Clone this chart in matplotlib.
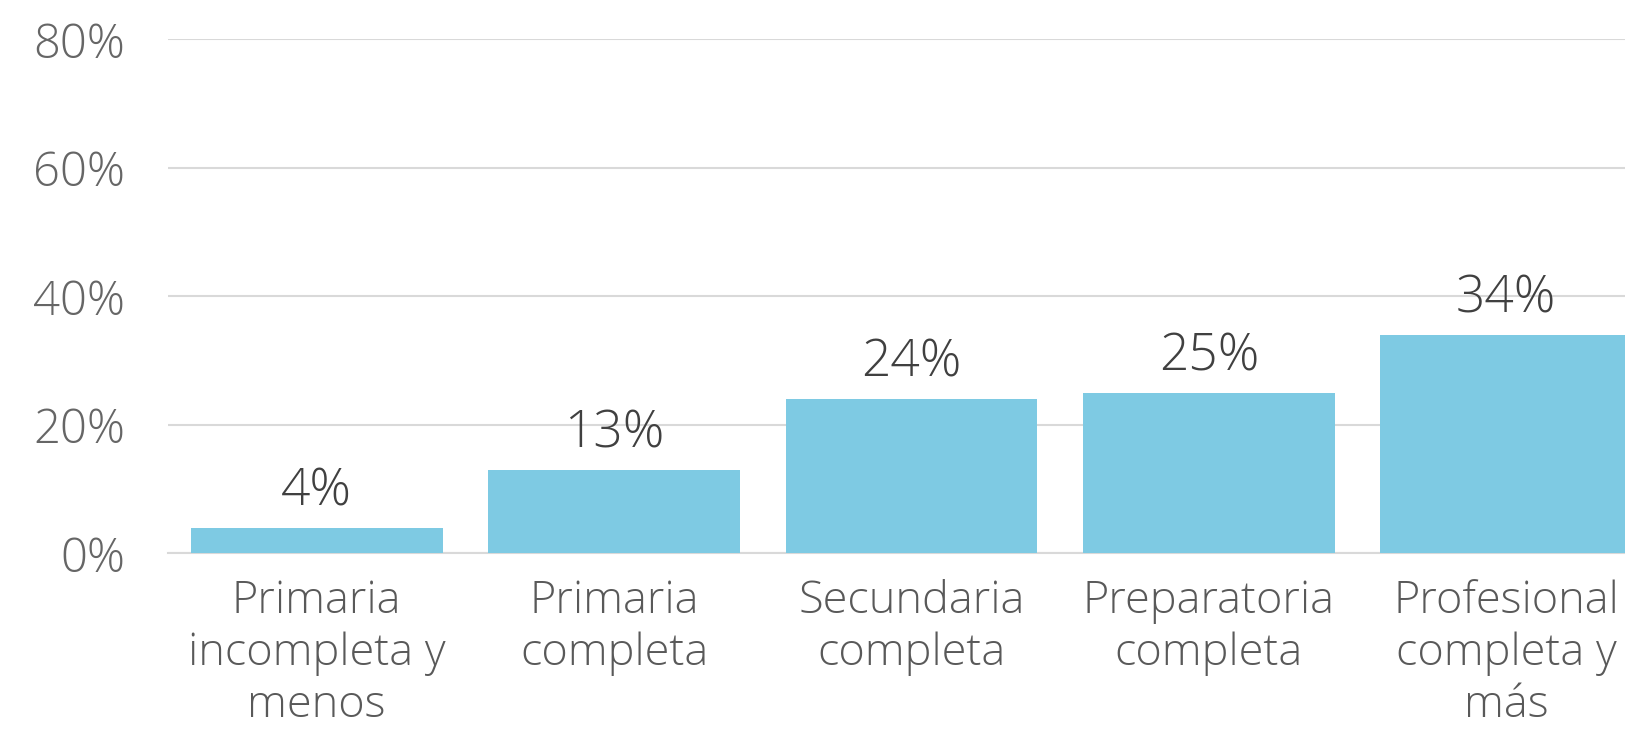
import numpy as np
import matplotlib as mpl
mpl.use('Agg')
import matplotlib.pyplot as plt
from matplotlib.ticker import FuncFormatter

# data
categories = ['Primaria\nincompleta y\nmenos', 'Primaria\ncompleta',
              'Secundaria\ncompleta', 'Preparatoria\ncompleta',
              'Profesional\ncompleta y\nmás']
values = [4, 13, 24, 25, 34]
yticks = [0, 20, 40, 60, 80]

bar_color = '#7ECAE3'
grid_color = '#D9D9D9'

plt.rc('font', family=['Open Sans', 'DejaVu Sans'], weight='light')

fig_w, fig_h, dpi = 16.25, 7.39, 100
fig = plt.figure(figsize=(fig_w, fig_h), dpi=dpi)
# axes runs past the right edge on purpose (last bar is cropped)
ax = fig.add_axes([168/1625, 185.6/739, 1487/1625, 514.1/739])

x = np.arange(len(categories))
ax.bar(x, values, width=0.846, color=bar_color, zorder=3)

for xi, v in zip(x, values):
    ax.text(xi, v + 1.6, '{0}%'.format(v), ha='center', va='bottom',
            fontsize=37, color='#404040')

ax.set_xlim(-0.5, 4.5)
ax.set_ylim(0, 80)
ax.set_yticks(yticks)
ax.yaxis.set_major_formatter(FuncFormatter(lambda v, p: '{0:.0f}%'.format(v)))
ax.set_xticks(x)
ax.set_xticklabels(categories, fontsize=32.5, color='#595959', linespacing=1.22)

ax.tick_params(axis='y', length=0, pad=31, labelsize=34, labelcolor='#666666')
ax.tick_params(axis='x', length=0, pad=19)

ax.grid(axis='y', color=grid_color, linewidth=1.5, zorder=0)
for s in ['left', 'right', 'top']:
    ax.spines[s].set_visible(False)
ax.spines['bottom'].set_color(grid_color)
ax.spines['bottom'].set_linewidth(1.5)

plt.savefig('out.png', dpi=dpi)
